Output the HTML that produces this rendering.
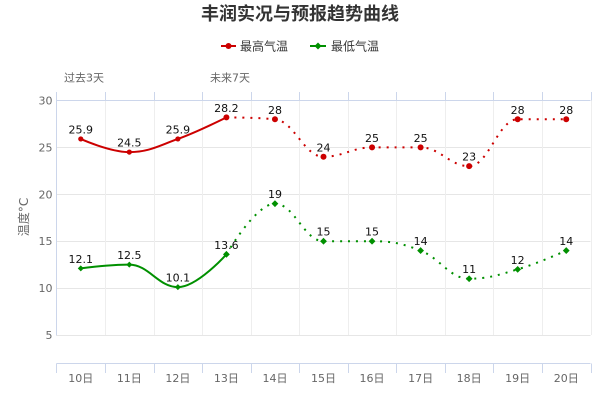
<!DOCTYPE html>
<html><head><meta charset="utf-8">
<style>
html,body{margin:0;padding:0;background:#fff;}
svg{display:block;font-family:"DejaVu Sans","Liberation Sans","Noto Sans CJK SC",sans-serif;}
.cjk{font-family:"DejaVu Sans","Noto Sans CJK SC",sans-serif;}
</style></head>
<body>
<svg id="c" width="600" height="400" viewBox="0 0 600 400" xmlns="http://www.w3.org/2000/svg">
<rect width="600" height="400" fill="#fff"/>
<text x="300" y="20" text-anchor="middle" font-size="18" font-weight="bold" fill="#333" class="cjk">丰润实况与预报趋势曲线</text>
<g id="legend">
  <line x1="221" y1="46" x2="236" y2="46" stroke="#cc0000" stroke-width="2"/>
  <circle cx="228.5" cy="46" r="3" fill="#cc0000"/>
  <text x="240" y="50.5" font-size="12" fill="#333" class="cjk">最高气温</text>
  <line x1="310" y1="46" x2="326" y2="46" stroke="#009000" stroke-width="2"/>
  <path d="M318 42.5 L321.5 46 L318 49.5 L314.5 46Z" fill="#009000"/>
  <text x="331" y="50.5" font-size="12" fill="#333" class="cjk">最低气温</text>
</g>
<text x="64" y="81.5" font-size="11" fill="#666" class="cjk">过去3天</text>
<text x="210" y="81.5" font-size="11" fill="#666" class="cjk">未来7天</text>
<text transform="translate(28,217) rotate(-90)" text-anchor="middle" font-size="12" fill="#666" class="cjk">温度°C</text>
<g id="grid"></g>
<g id="series"></g>
<g id="labels"></g>
</svg>
<script>
(function(){
var NS="http://www.w3.org/2000/svg";
function el(parent,tag,attrs,text){var e=document.createElementNS(NS,tag);for(var k in attrs)e.setAttribute(k,attrs[k]);if(text!==undefined)e.textContent=text;parent.appendChild(e);return e;}
var X0=56.5,X1=590.5,CW=(X1-X0)/11;
function px(i){return X0+(i+0.5)*CW;}
function py(v){return 335-(v-5)*9.38;}
var grid=document.getElementById('grid'),series=document.getElementById('series'),labels=document.getElementById('labels');
// horizontal gridlines
[5,10,15,20,25].forEach(function(v){var y=Math.round(py(v))+0.5;el(grid,'line',{x1:X0,x2:X1,y1:y,y2:y,stroke:'#e6e6e6','stroke-width':1});
 el(grid,'text',{x:52.5,y:py(v)+4,'text-anchor':'end','font-size':11,fill:'#666'},String(v));});
el(grid,'text',{x:52.5,y:104.5,'text-anchor':'end','font-size':11,fill:'#666'},'30');
// vertical gridlines
for(var k=1;k<=11;k++){var x=Math.round(X0+k*CW)+0.5;el(grid,'line',{x1:x,x2:x,y1:100.5,y2:335,stroke:'#eeeeee','stroke-width':1});}
// y axis line
el(grid,'line',{x1:56.5,x2:56.5,y1:100.5,y2:335.5,stroke:'#ccd6eb','stroke-width':1});
// top axis
el(grid,'line',{x1:X0,x2:X1,y1:100.5,y2:100.5,stroke:'#ccd6eb','stroke-width':1});
for(var k=0;k<=11;k++){var x=Math.round(X0+k*CW)+(k==0?0:0.5);if(k==0)x=56.5;el(grid,'line',{x1:x,x2:x,y1:92,y2:100.5,stroke:'#ccd6eb','stroke-width':1});}
// bottom axis
el(grid,'line',{x1:X0,x2:X1,y1:363.5,y2:363.5,stroke:'#ccd6eb','stroke-width':1});
for(var k=0;k<=11;k++){var x=Math.round(X0+k*CW)+0.5;if(k==0)x=56.5;el(grid,'line',{x1:x,x2:x,y1:363.5,y2:373,stroke:'#ccd6eb','stroke-width':1});}
for(var i=0;i<11;i++){el(grid,'text',{x:px(i),y:382,'text-anchor':'middle','font-size':11,fill:'#666',class:'cjk'},(10+i)+'日');}

function spline(P){
  var s=1.5,den=2.5,R=[],d='M'+P[0][0]+','+P[0][1];
  for(var i=1;i<P.length;i++){
    var x=P[i][0],y=P[i][1],lx=P[i-1][0],ly=P[i-1][1],lcx=x,lcy=y;
    if(i<P.length-1){
      var nx=P[i+1][0],ny=P[i+1][1];
      lcx=(s*x+lx)/den;lcy=(s*y+ly)/den;
      var rcx=(s*x+nx)/den,rcy=(s*y+ny)/den;
      var corr=((rcy-lcy)*(rcx-x))/(rcx-lcx)+y-rcy;
      lcy+=corr;rcy+=corr;
      if(lcy>ly&&lcy>y){lcy=Math.max(ly,y);rcy=2*y-lcy;}
      else if(lcy<ly&&lcy<y){lcy=Math.min(ly,y);rcy=2*y-lcy;}
      if(rcy>ny&&rcy>y){rcy=Math.max(ny,y);lcy=2*y-rcy;}
      else if(rcy<ny&&rcy<y){rcy=Math.min(ny,y);lcy=2*y-rcy;}
      R[i]=[rcx,rcy];
    }
    var r=R[i-1]||P[i-1];
    d+=' C'+r[0]+','+r[1]+' '+lcx+','+lcy+' '+x+','+y;
  }
  return d;
}
var hi=[25.9,24.5,25.9,28.2,28,24,25,25,23,28,28];
var lo=[12.1,12.5,10.1,13.6,19,15,15,14,11,12,14];
function draw(data,color,shape){
  var P=data.map(function(v,i){return [px(i),py(v)];});
  el(series,'path',{d:spline(P.slice(0,4)),fill:'none',stroke:color,'stroke-width':2,'stroke-linejoin':'round'});
  el(series,'path',{d:spline(P.slice(3)),fill:'none',stroke:color,'stroke-width':2,'stroke-dasharray':'2,6'});
  P.forEach(function(p,i){
    if(shape=='circle'){el(series,'circle',{cx:p[0],cy:p[1],r:i<3?2.6:3,fill:color});}
    else{var r=i<3?3:3.4;el(series,'path',{d:'M'+p[0]+' '+(p[1]-r)+' L'+(p[0]+r)+' '+p[1]+' L'+p[0]+' '+(p[1]+r)+' L'+(p[0]-r)+' '+p[1]+'Z',fill:color});}
    el(labels,'text',{x:p[0],y:p[1]-5.5,'text-anchor':'middle','font-size':11,fill:'#111'},String(data[i]));
  });
}
draw(hi,'#cc0000','circle');
draw(lo,'#009000','diamond');
})();
</script>
</body></html>
